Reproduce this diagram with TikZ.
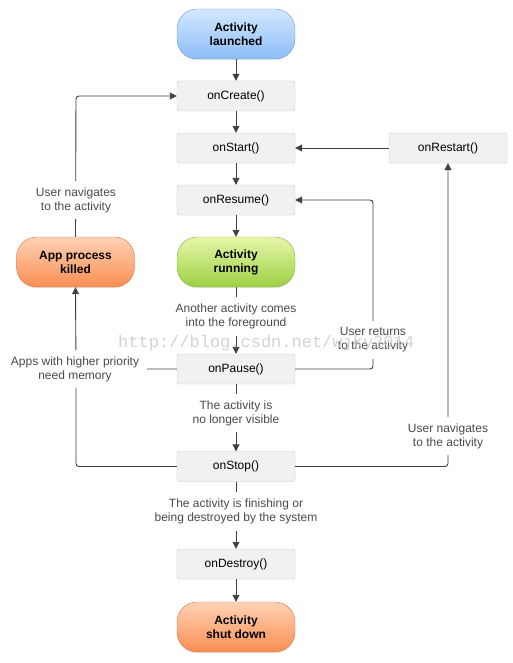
\documentclass[tikz,border=0pt]{standalone}
\usepackage{fontspec}
\setmainfont{Liberation Sans}
\newfontfamily\wmfont{Liberation Mono}
\usetikzlibrary{arrows.meta,shadows}
\definecolor{linec}{HTML}{404040}
\definecolor{boxfill}{HTML}{F1F1F1}
\definecolor{boxline}{HTML}{C4C4C4}
\definecolor{labc}{HTML}{4A4A4A}
\definecolor{bluedraw}{HTML}{6E9FE6}
\definecolor{bluetop}{HTML}{D3E8FF}
\definecolor{bluebot}{HTML}{8DBDF7}
\definecolor{greendraw}{HTML}{8FB24C}
\definecolor{greentop}{HTML}{E6F6A8}
\definecolor{greenbot}{HTML}{9DD043}
\definecolor{orangedraw}{HTML}{D47A48}
\definecolor{orangetop}{HTML}{FFD2B5}
\definecolor{orangebot}{HTML}{F98E52}
\definecolor{wmc}{HTML}{C8C8C8}
\tikzset{
  method/.style={draw=boxline, fill=boxfill, rounded corners=2.5bp, minimum width=118bp, minimum height=30bp, inner sep=0pt, font=\fontsize{12bp}{14bp}\selectfont, text=black},
  pill/.style={rounded corners=20bp, minimum width=118bp, minimum height=50bp, inner sep=0pt, align=center, font=\fontsize{12bp}{14bp}\selectfont\bfseries, text=black, drop shadow={shadow xshift=0bp, shadow yshift=-1.2bp, opacity=0.18}},
  bluepill/.style={pill, draw=bluedraw, top color=bluetop, bottom color=bluebot},
  greenpill/.style={pill, draw=greendraw, top color=greentop, bottom color=greenbot},
  orangepill/.style={pill, draw=orangedraw, top color=orangetop, bottom color=orangebot},
  conn/.style={draw=linec, line width=0.9bp, rounded corners=3bp},
  arr/.style={conn, -{Triangle[length=7bp,width=7bp]}},
  lab/.style={fill=white, align=center, text=labc, inner xsep=8bp, inner ysep=6.5bp, font=\fontsize{12bp}{14bp}\selectfont},
}
\begin{document}
\begin{tikzpicture}[x=1bp,y=-1bp]
\useasboundingbox[fill=white] (0,0) rectangle (513,663);
% nodes
\node[bluepill] (launch) at (236,34) {Activity\\launched};
\node[method] (create) at (236,96) {onCreate()};
\node[method] (start) at (236,148) {onStart()};
\node[method] (restart) at (448,148) {onRestart()};
\node[method] (resume) at (236,200) {onResume()};
\node[greenpill] (running) at (236,262) {Activity\\running};
\node[orangepill] (killed) at (75.5,262) {App process\\killed};
\node[method] (pause) at (236,369) {onPause()};
\node[method] (stop) at (236,466.5) {onStop()};
\node[method] (destroy) at (236,564) {onDestroy()};
\node[orangepill] (shut) at (236,627) {Activity\\shut down};
% corner coordinates
\coordinate (lx) at (76,0);
\coordinate (rx1) at (373,0);
\coordinate (rx2) at (448,0);
% main flow
\draw[arr] (launch) -- (create);
\draw[arr] (create) -- (start);
\draw[arr] (start) -- (resume);
\draw[arr] (resume) -- (running);
\draw[arr] (running) -- (pause);
\draw[arr] (pause) -- (stop);
\draw[arr] (stop) -- (destroy);
\draw[arr] (destroy) -- (shut);
% side loops
\draw[arr] (restart) -- (start);
\draw[arr] (killed.north) -- (lx |- create.west) -- (create.west);
\draw[arr] (pause.west) -- (lx |- pause.west) -- (killed.south);
\draw[conn] (stop.west) -- (lx |- stop.west) -- (lx |- pause.west);
\draw[arr] (pause.east) -- (rx1 |- pause.east) -- (rx1 |- resume.east) -- (resume.east);
\draw[arr] (stop.east) -- (rx2 |- stop.east) -- (restart.south);
% labels
\node[lab] (l1) at (76,200) {User navigates\\to the activity};
\node[lab] (l2) at (75,369) {Apps with higher priority\\need memory};
\node[lab] (l3) at (236,316.5) {Another activity comes\\into the foreground};
\node[lab] (l4) at (236,413) {The activity is\\no longer visible};
\node[lab] (l5) at (236,511.5) {The activity is finishing or\\being destroyed by the system};
\node[lab] (l6) at (373,340) {User returns\\to the activity};
\node[lab] (l7) at (448,436) {User navigates\\to the activity};
% watermark
\node[anchor=west, text=wmc, opacity=0.8, inner sep=0pt, font=\wmfont\fontsize{17bp}{17bp}\selectfont] (wm) at (118,343) {http://blog.csdn.net/wjky2014};
\end{tikzpicture}
\end{document}
